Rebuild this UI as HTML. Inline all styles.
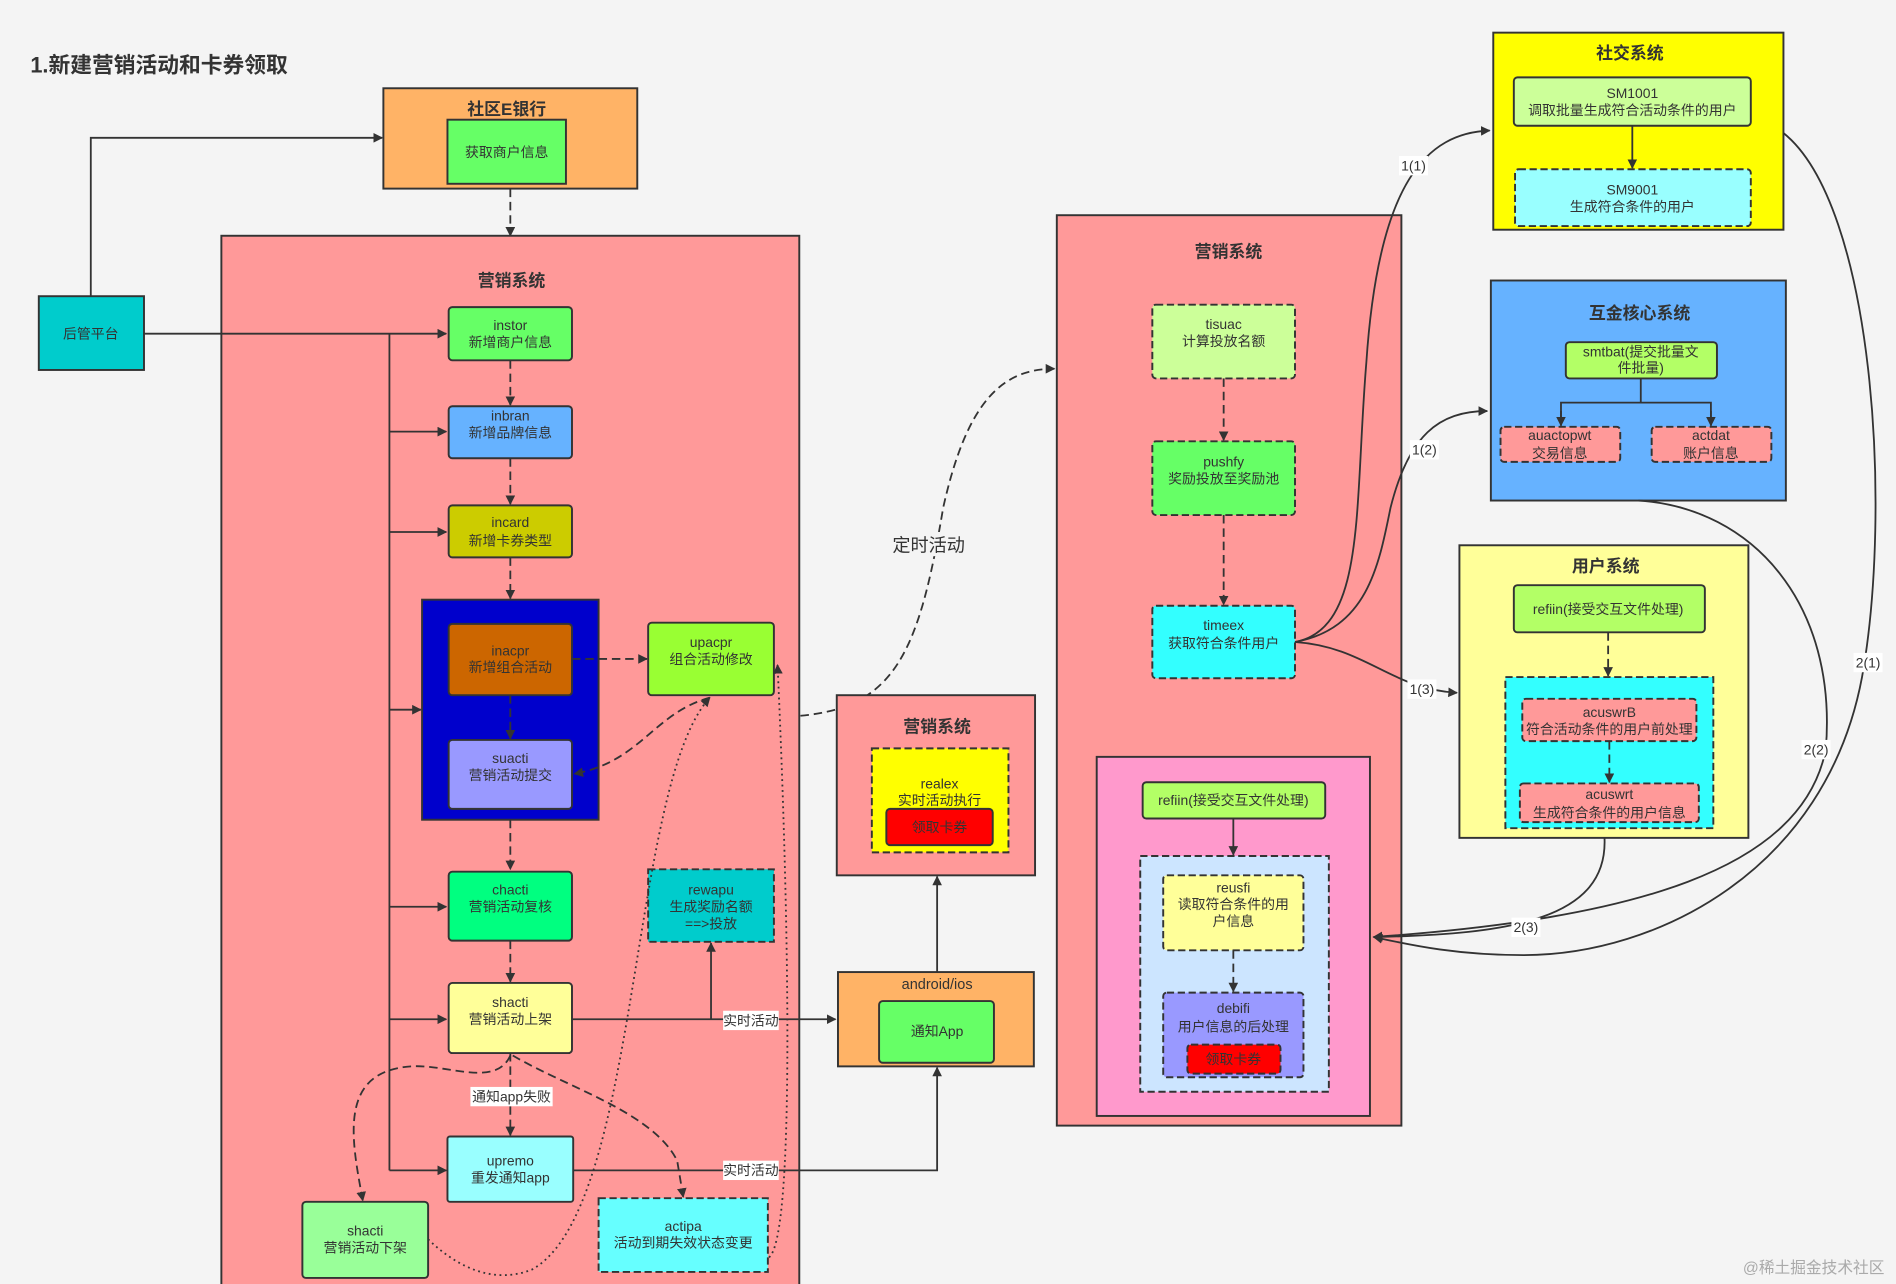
<!DOCTYPE html>
<html><head><meta charset="utf-8"><style>
html,body{margin:0;padding:0;background:#f4f4f4;}
svg{display:block;}
text{font-family:"Liberation Sans","Noto Sans CJK SC",sans-serif;fill:#333;}
.t{font-size:11.5px;text-anchor:middle;}
.h{font-size:14px;font-weight:bold;text-anchor:middle;}
.n{stroke:#333;stroke-width:1.6;}
.d{stroke:#333;stroke-width:1.6;stroke-dasharray:6 3;}
.l{fill:none;stroke:#333;stroke-width:1.5;}
.ld{fill:none;stroke:#333;stroke-width:1.5;stroke-dasharray:7 4;}
.lo{fill:none;stroke:#333;stroke-width:1.5;stroke-dasharray:1.5 3;}
.lb{font-size:11.5px;text-anchor:middle;}
</style></head><body>
<svg width="1896" height="1284" viewBox="0 0 1568 1062" xmlns="http://www.w3.org/2000/svg">
<defs><marker id="a" viewBox="0 0 10 10" refX="9" refY="5" markerWidth="8" markerHeight="8" orient="auto-start-reverse" markerUnits="userSpaceOnUse"><path d="M0,0 L10,5 L0,10 z" fill="#333"/></marker></defs>
<rect width="1568" height="1062" fill="#f4f4f4"/>
<text x="25" y="60" style="font-size:18px;font-weight:bold">1.新建营销活动和卡券领取</text>

<!-- 社区E银行 -->
<rect x="317" y="73" width="210" height="83" fill="#FFB366" class="n"/>
<text x="419" y="95" class="h">社区E银行</text>
<rect x="370" y="99" width="98" height="53" fill="#66FF66" class="n"/>
<text x="419" y="130" class="t">获取商户信息</text>

<!-- big marketing -->
<rect x="183" y="195" width="478" height="880" fill="#FF9999" class="n"/>
<text x="423" y="237" class="h">营销系统</text>
<path d="M422,156 V195" class="ld" marker-end="url(#a)"/>

<rect x="32" y="245" width="87" height="61" fill="#00CCCC" class="n"/>
<text x="75" y="280" class="t">后管平台</text>
<path d="M75,245 V114 H316" class="l" marker-end="url(#a)"/>
<path d="M119,276 H369" class="l" marker-end="url(#a)"/>
<path d="M322,276 V968" class="l"/>
<path d="M322,357 H369" class="l" marker-end="url(#a)"/>
<path d="M322,440 H369" class="l" marker-end="url(#a)"/>
<path d="M322,587 H348" class="l" marker-end="url(#a)"/>
<path d="M322,750 H369" class="l" marker-end="url(#a)"/>
<path d="M322,843 H369" class="l" marker-end="url(#a)"/>
<path d="M322,968 H369" class="l" marker-end="url(#a)"/>

<rect x="371" y="254" width="102" height="44" rx="3" fill="#66FF66" class="n"/>
<text x="422" y="273" class="t">instor</text><text x="422" y="287" class="t">新增商户信息</text>
<path d="M422,298 V335" class="ld" marker-end="url(#a)"/>
<rect x="371" y="336" width="102" height="43" rx="3" fill="#66B2FF" class="n"/>
<text x="422" y="348" class="t">inbran</text><text x="422" y="362" class="t">新增品牌信息</text>
<path d="M422,379 V417" class="ld" marker-end="url(#a)"/>
<rect x="371" y="418" width="102" height="43" rx="3" fill="#CCCC00" class="n"/>
<text x="422" y="436" class="t">incard</text><text x="422" y="451" class="t">新增卡券类型</text>
<path d="M422,461 V495" class="ld" marker-end="url(#a)"/>

<rect x="349" y="496" width="146" height="182" fill="#0000CC" class="n"/>
<rect x="371" y="516" width="102" height="59" rx="3" fill="#CC6600" class="n"/>
<text x="422" y="542" class="t">inacpr</text><text x="422" y="556" class="t">新增组合活动</text>
<path d="M422,575 V611" class="ld" marker-end="url(#a)"/>
<rect x="371" y="612" width="102" height="57" rx="3" fill="#9999FF" class="n"/>
<text x="422" y="631" class="t">suacti</text><text x="422" y="645" class="t">营销活动提交</text>
<rect x="536" y="515" width="104" height="60" rx="3" fill="#99FF33" class="n"/>
<text x="588" y="535" class="t">upacpr</text><text x="588" y="549" class="t">组合活动修改</text>
<path d="M473,545 H535" class="ld" marker-end="url(#a)"/>
<path d="M587,577 C540,590 530,630 475,640" class="ld" marker-end="url(#a)"/>
<path d="M422,678 V719" class="ld" marker-end="url(#a)"/>

<rect x="371" y="721" width="102" height="57" rx="3" fill="#00FF80" class="n"/>
<text x="422" y="740" class="t">chacti</text><text x="422" y="754" class="t">营销活动复核</text>
<path d="M422,778 V812" class="ld" marker-end="url(#a)"/>
<rect x="536" y="719" width="104" height="60" fill="#00CCCC" class="d"/>
<text x="588" y="740" class="t">rewapu</text><text x="588" y="754" class="t">生成奖励名额</text><text x="588" y="768" class="t">==&gt;投放</text>
<rect x="371" y="813" width="102" height="58" rx="3" fill="#FFFF99" class="n"/>
<text x="422" y="833" class="t">shacti</text><text x="422" y="847" class="t">营销活动上架</text>
<path d="M473,843 H691" class="l" marker-end="url(#a)"/>
<path d="M588,843 V780" class="l" marker-end="url(#a)"/>
<rect x="598" y="836" width="46" height="16" fill="#fff"/><text x="621" y="848" class="lb">实时活动</text>

<path d="M422,871 V939" class="ld" marker-end="url(#a)"/>
<rect x="389" y="899" width="68" height="16" fill="#fff"/><text x="423" y="911" class="lb">通知app失败</text>
<rect x="370" y="940" width="104" height="54" rx="2" fill="#99FFFF" class="n"/>
<text x="422" y="964" class="t">upremo</text><text x="422" y="978" class="t">重发通知app</text>
<path d="M474,968 H775 V883" class="l" marker-end="url(#a)"/>
<rect x="598" y="960" width="46" height="16" fill="#fff"/><text x="621" y="972" class="lb">实时活动</text>

<path d="M422,873 C410,900 370,880 340,882 C280,886 290,940 300,993" class="ld" marker-end="url(#a)"/>
<path d="M424,873 C470,900 540,920 560,960 L565,990" class="ld" marker-end="url(#a)"/>
<rect x="250" y="994" width="104" height="63" rx="3" fill="#99FF99" class="n"/>
<text x="302" y="1022" class="t">shacti</text><text x="302" y="1036" class="t">营销活动下架</text>
<rect x="495" y="991" width="140" height="61" fill="#66FFFF" class="d"/>
<text x="565" y="1018" class="t">actipa</text><text x="565" y="1032" class="t">活动到期失效状态变更</text>
<path d="M354,1025 C380,1050 410,1062 440,1050 C530,1000 520,650 587,577" class="lo" marker-end="url(#a)"/>
<path d="M636,1040 C660,1020 650,700 643,550" class="lo" marker-end="url(#a)"/>

<!-- 定时活动 -->
<path d="M662,592 C740,585 760,540 780,420 C800,330 830,305 872,305" class="ld" marker-end="url(#a)"/>
<rect x="734" y="440" width="68" height="20" fill="#f4f4f4"/><text x="768" y="456" style="font-size:15px;text-anchor:middle">定时活动</text>

<!-- middle -->
<rect x="692" y="575" width="164" height="149" fill="#FF9999" class="n"/>
<text x="775" y="606" class="h">营销系统</text>
<rect x="721" y="619" width="113" height="86" fill="#FFFF00" class="d"/>
<text x="777" y="652" class="t">realex</text><text x="777" y="666" class="t">实时活动执行</text>
<rect x="733" y="669" width="88" height="30" rx="3" fill="#FF0000" class="n"/>
<text x="777" y="688" class="t">领取卡券</text>
<path d="M775,804 V725" class="l" marker-end="url(#a)"/>
<rect x="693" y="804" width="162" height="78" fill="#FFB366" class="n"/>
<text x="775" y="818" class="t" style="font-size:12px">android/ios</text>
<rect x="727" y="828" width="95" height="51" rx="3" fill="#66FF66" class="n"/>
<text x="775" y="857" class="t">通知App</text>

<!-- right marketing -->
<rect x="874" y="178" width="285" height="753" fill="#FF9999" class="n"/>
<text x="1016" y="213" class="h">营销系统</text>
<rect x="953" y="252" width="118" height="61" rx="3" fill="#CCFF99" class="d"/>
<text x="1012" y="272" class="t">tisuac</text><text x="1012" y="286" class="t">计算投放名额</text>
<path d="M1012,313 V364" class="ld" marker-end="url(#a)"/>
<rect x="953" y="365" width="118" height="61" rx="3" fill="#66FF66" class="d"/>
<text x="1012" y="386" class="t">pushfy</text><text x="1012" y="400" class="t">奖励投放至奖励池</text>
<path d="M1012,426 V500" class="ld" marker-end="url(#a)"/>
<rect x="953" y="501" width="118" height="60" rx="3" fill="#33FFFF" class="d"/>
<text x="1012" y="521" class="t">timeex</text><text x="1012" y="536" class="t">获取符合条件用户</text>

<rect x="907" y="626" width="226" height="297" fill="#FF99CC" class="n"/>
<rect x="945" y="647" width="151" height="30" rx="3" fill="#B3FF66" class="n"/>
<text x="1020" y="666" class="t">refiin(接受交互文件处理)</text>
<path d="M1020,677 V707" class="l" marker-end="url(#a)"/>
<rect x="943" y="708" width="156" height="195" fill="#CCE5FF" class="d"/>
<rect x="962" y="724" width="116" height="62" rx="3" fill="#FFFF99" class="d"/>
<text x="1020" y="738" class="t">reusfi</text><text x="1020" y="752" class="t">读取符合条件的用</text><text x="1020" y="766" class="t">户信息</text>
<path d="M1020,786 V820" class="ld" marker-end="url(#a)"/>
<rect x="962" y="821" width="116" height="70" rx="3" fill="#9999FF" class="d"/>
<text x="1020" y="838" class="t">debifi</text><text x="1020" y="853" class="t">用户信息的后处理</text>
<rect x="982" y="864" width="77" height="24" rx="3" fill="#FF0000" class="d"/>
<text x="1020" y="880" class="t">领取卡券</text>

<!-- 社交系统 -->
<rect x="1235" y="27" width="240" height="163" fill="#FFFF00" class="n"/>
<text x="1348" y="49" class="h">社交系统</text>
<rect x="1252" y="64" width="196" height="40" rx="3" fill="#CCFF99" class="n"/>
<text x="1350" y="81" class="t">SM1001</text><text x="1350" y="95" class="t">调取批量生成符合活动条件的用户</text>
<path d="M1350,104 V139" class="l" marker-end="url(#a)"/>
<rect x="1253" y="140" width="195" height="47" rx="3" fill="#99FFFF" class="d"/>
<text x="1350" y="161" class="t">SM9001</text><text x="1350" y="175" class="t">生成符合条件的用户</text>

<!-- 互金 -->
<rect x="1233" y="232" width="244" height="182" fill="#66B2FF" class="n"/>
<text x="1356" y="264" class="h">互金核心系统</text>
<rect x="1295" y="283" width="125" height="30" rx="3" fill="#B3FF66" class="n"/>
<text x="1357" y="295" class="t">smtbat(提交批量文</text><text x="1357" y="308" class="t">件批量)</text>
<path d="M1357,313 V333 H1291 V352 M1357,333 H1415 V352" class="l"/>
<path d="M1291,340 V352" class="l" marker-end="url(#a)"/><path d="M1415,340 V352" class="l" marker-end="url(#a)"/>
<rect x="1241" y="353" width="99" height="29" rx="3" fill="#FF9999" class="d"/>
<text x="1290" y="364" class="t">auactopwt</text><text x="1290" y="379" class="t">交易信息</text>
<rect x="1366" y="353" width="99" height="29" rx="3" fill="#FF9999" class="d"/>
<text x="1415" y="364" class="t">actdat</text><text x="1415" y="379" class="t">账户信息</text>

<!-- 用户系统 -->
<rect x="1207" y="451" width="239" height="242" fill="#FFFF99" class="n"/>
<text x="1328" y="473" class="h">用户系统</text>
<rect x="1252" y="484" width="158" height="39" rx="3" fill="#B3FF66" class="n"/>
<text x="1330" y="508" class="t">refiin(接受交互文件处理)</text>
<path d="M1330,523 V559" class="ld" marker-end="url(#a)"/>
<rect x="1245" y="560" width="172" height="125" fill="#33FFFF" class="d"/>
<rect x="1259" y="578" width="144" height="35" rx="3" fill="#FF9999" class="d"/>
<text x="1331" y="593" class="t">acuswrB</text><text x="1331" y="607" class="t">符合活动条件的用户前处理</text>
<path d="M1331,613 V647" class="ld" marker-end="url(#a)"/>
<rect x="1257" y="648" width="148" height="32" rx="3" fill="#FF9999" class="d"/>
<text x="1331" y="661" class="t">acuswrt</text><text x="1331" y="676" class="t">生成符合条件的用户信息</text>

<!-- curves from timeex -->
<path d="M1071,531 C1130,520 1120,420 1130,300 C1140,150 1180,110 1232,108" class="l" marker-end="url(#a)"/>
<path d="M1071,531 C1130,520 1140,470 1150,420 C1165,360 1190,340 1230,340" class="l" marker-end="url(#a)"/>
<path d="M1071,531 C1130,535 1150,570 1205,573" class="l" marker-end="url(#a)"/>
<rect x="1157" y="129" width="24" height="16" fill="#fff"/><text x="1169" y="141" class="lb">1(1)</text>
<rect x="1166" y="364" width="24" height="16" fill="#fff"/><text x="1178" y="376" class="lb">1(2)</text>
<rect x="1164" y="562" width="24" height="16" fill="#fff"/><text x="1176" y="574" class="lb">1(3)</text>

<path d="M1475,110 C1550,170 1565,420 1540,560 C1510,720 1370,790 1260,790 C1200,790 1160,780 1136,775" class="l" marker-end="url(#a)"/>
<path d="M1355,414 C1450,420 1520,500 1510,620 C1490,720 1350,760 1136,775" class="l" marker-end="url(#a)"/>
<path d="M1327,693 C1330,760 1250,773 1136,775" class="l" marker-end="url(#a)"/>
<rect x="1533" y="540" width="24" height="16" fill="#fff"/><text x="1545" y="552" class="lb">2(1)</text>
<rect x="1490" y="612" width="24" height="16" fill="#fff"/><text x="1502" y="624" class="lb">2(2)</text>
<rect x="1250" y="759" width="24" height="16" fill="#fff"/><text x="1262" y="771" class="lb">2(3)</text>

<text x="1500" y="1053" style="font-size:13px;fill:#aaa;text-anchor:middle">@稀土掘金技术社区</text>
</svg>
</body></html>
